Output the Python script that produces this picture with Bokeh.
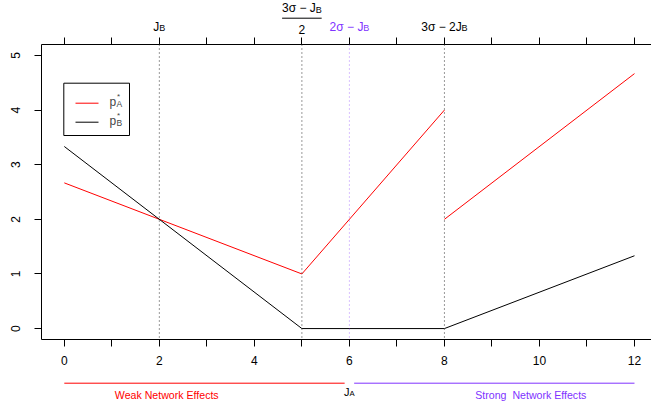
from bokeh.plotting import figure
from bokeh.models import FixedTicker, LinearAxis, Span, Label, Range1d
from bokeh.layouts import column
from bokeh.embed import file_html
from bokeh.resources import INLINE

# ---------------- data ----------------
pA_weak_x = [0, 5, 8]
pA_weak_y = [2.667, 1.0, 4.0]
pA_strong_x = [8, 12]
pA_strong_y = [2.0, 4.667]
pB_x = [0, 5, 8, 12]
pB_y = [3.333, 0.0, 0.0, 1.333]

x_ticks = list(range(0, 13))
x_tick_labels = {t: (str(t) if t % 2 == 0 else "") for t in x_ticks}
y_ticks = [0, 1, 2, 3, 4, 5]

thresholds_black = [2, 5, 8]      # J_B, (3σ−J_B)/2, 3σ−2J_B
threshold_purple = 6              # 2σ−J_B  (= J_A)
weak_span = [0, 5.9]
strong_span = [6.1, 12]
weak_label_x = 2.23
strong_label_x = 10.0

# ---------------- layout ----------------
W = 651
FL, FR = 41, 0
HEAD_H = 36            # page rows 0..36
MAIN_TOP = 8           # top axis ticks
FRAME_H = 295          # page rows 44..339
MAIN_BOT = 31          # bottom axis
FOOT_H = 409 - HEAD_H - MAIN_TOP - FRAME_H - MAIN_BOT
X0, X1 = -0.48, 12.358
Y0, Y1 = -0.2, 5.2
PXX = (W - FL - FR) / (X1 - X0)
PXY = FRAME_H / (Y1 - Y0)
FRAME_TOP = HEAD_H + MAIN_TOP
FIX = 3.5              # baseline correction (px, upward)
FONT = "Liberation Sans"
RED = "#FF0000"
PURPLE = "#8033FF"
xr = Range1d(X0, X1)


def dx(page_x):
    return X0 + (page_x - FL) / PXX


def dy(page_y):
    return Y1 - (page_y - FRAME_TOP) / PXY


CW = {'J': 0.5, 'B': 0.667, 'A': 0.667, '2': 0.556, '3': 0.556, 'σ': 0.6,
      '−': 0.584, ' ': 0.278, 'p': 0.556, '*': 0.389}


def tw(s, size):
    return sum(CW.get(c, 0.55) for c in s) * size


def bare_fig(h, y_start, y_end):
    f = figure(width=W, height=h, x_range=xr, y_range=Range1d(y_start, y_end),
               x_axis_type=None, y_axis_type=None, output_backend="svg",
               toolbar_location=None, min_border_left=FL, min_border_right=FR,
               min_border_top=0, min_border_bottom=0)
    f.outline_line_color = None
    f.background_fill_color = "white"
    f.border_fill_color = "white"
    return f


# header (y = page pixel rows) and footer
head = bare_fig(HEAD_H, HEAD_H, 0)
foot_top = HEAD_H + MAIN_TOP + FRAME_H + MAIN_BOT
foot = bare_fig(FOOT_H, 409, foot_top)

p = figure(width=W, height=MAIN_TOP + FRAME_H + MAIN_BOT, x_range=xr,
           y_range=Range1d(Y0, Y1), x_axis_type=None, y_axis_type=None,
           output_backend="svg", toolbar_location=None,
           min_border_left=FL, min_border_right=FR,
           min_border_top=MAIN_TOP, min_border_bottom=MAIN_BOT)
p.outline_line_color = None
p.background_fill_color = "white"
p.border_fill_color = "white"


def style_axis(ax):
    ax.axis_line_color = "black"
    ax.major_tick_line_color = "black"
    ax.minor_tick_line_color = None
    ax.major_tick_in = 0
    ax.major_tick_out = 7
    ax.major_label_text_font = FONT
    ax.major_label_text_font_size = "12px"
    ax.major_label_text_color = "black"


bottom = LinearAxis(ticker=FixedTicker(ticks=x_ticks), major_label_overrides=x_tick_labels)
style_axis(bottom)
bottom.major_label_standoff = 9
p.add_layout(bottom, "below")

left = LinearAxis(ticker=FixedTicker(ticks=y_ticks), major_label_orientation="vertical")
style_axis(left)
left.major_label_standoff = 14
p.add_layout(left, "left")

top = LinearAxis(ticker=FixedTicker(ticks=x_ticks),
                 major_label_overrides={t: "" for t in x_ticks})
style_axis(top)
top.major_label_text_font_size = "1px"
top.major_label_standoff = 0
p.add_layout(top, "above")

# vertical dotted reference lines
for xv in thresholds_black:
    p.add_layout(Span(location=xv, dimension="height", line_color="#333333",
                      line_dash="1 3", line_width=1))
p.add_layout(Span(location=threshold_purple, dimension="height", line_color=PURPLE,
                  line_alpha=0.6, line_dash="1 3", line_width=1))

# data lines
p.line(pA_weak_x, pA_weak_y, line_color=RED, line_width=1)
p.line(pA_strong_x, pA_strong_y, line_color=RED, line_width=1)
p.line(pB_x, pB_y, line_color="black", line_width=1)


def rich(fig, x, y, pieces, align="center"):
    """pieces: (text, size, dy_in_page_px, color); y = page row of baseline"""
    total = sum(tw(t, s) for t, s, d, c in pieces)
    off = -total / 2 if align == "center" else 0
    for t, s, d, c in pieces:
        fig.add_layout(Label(x=x, y=y + d - FIX, x_offset=off, text=t,
                             text_font=FONT, text_font_size=f"{s}px", text_color=c,
                             text_align="left", text_baseline="alphabetic"))
        off += tw(t, s)


# top labels (header, y = page row)
SUB = 9
rich(head, thresholds_black[0], 29.5, [("J", 12, 0, "black"), ("B", SUB, 1.8, "black")])
rich(head, thresholds_black[2], 29.5, [("3σ − 2J", 12, 0, "black"), ("B", SUB, 1.8, "black")])
rich(head, threshold_purple, 29.5, [("2σ − J", 12, 0, PURPLE), ("B", SUB, 1.8, PURPLE)])
rich(head, thresholds_black[1], 10.7, [("3σ − J", 12, 0, "black"), ("B", SUB, 1.8, "black")])
rich(head, thresholds_black[1], 32.3, [("2", 12, 0, "black")])
frac_half = (tw("3σ − J", 12) + tw("B", SUB)) / 2 / PXX
xc = thresholds_black[1]
head.line([xc - frac_half, xc + frac_half], [17.7, 17.7], line_color="black", line_width=1)

# bottom regime annotation (footer, y = page row)
foot.line(weak_span, [382.7, 382.7], line_color=RED, line_width=1)
foot.line(strong_span, [382.7, 382.7], line_color=PURPLE, line_width=1)
rich(foot, weak_label_x, 397.5, [("Weak Network Effects", 10.6, 0, RED)])
rich(foot, strong_label_x, 397.5, [("Strong\u00a0 Network Effects", 10.6, 0, PURPLE)])
rich(foot, threshold_purple, 394.5, [("J", 11, 0, "black"), ("A", 7.7, 2, "black")])

# legend (manual, to allow sub/superscripts)
lx0, lx1, ly0, ly1 = dx(63.3), dx(129), dy(135), dy(82.7)
p.quad(left=[lx0], right=[lx1], bottom=[ly0], top=[ly1], fill_color="white",
       line_color="black", line_width=1)
p.line([dx(75), dx(98)], [dy(102.7), dy(102.7)], line_color=RED, line_width=1)
p.line([dx(75), dx(98)], [dy(121.7), dy(121.7)], line_color="black", line_width=1)
for name, ly in (("A", 102.7), ("B", 121.7)):
    base = ly + 2 - FIX
    p.add_layout(Label(x=dx(109), y=dy(base), text="p", text_font=FONT,
                       text_font_size="12px", text_align="left", text_baseline="alphabetic"))
    p.add_layout(Label(x=dx(116), y=dy(base + 2.5), text=name, text_font=FONT,
                       text_font_size="8.5px", text_align="left", text_baseline="alphabetic"))
    p.add_layout(Label(x=dx(116.5), y=dy(base - 5.5), text="*", text_font=FONT,
                       text_font_size="8px", text_align="left", text_baseline="alphabetic"))

layout = column(head, p, foot, spacing=0)
open("out.html", "w").write(file_html(layout, INLINE))
